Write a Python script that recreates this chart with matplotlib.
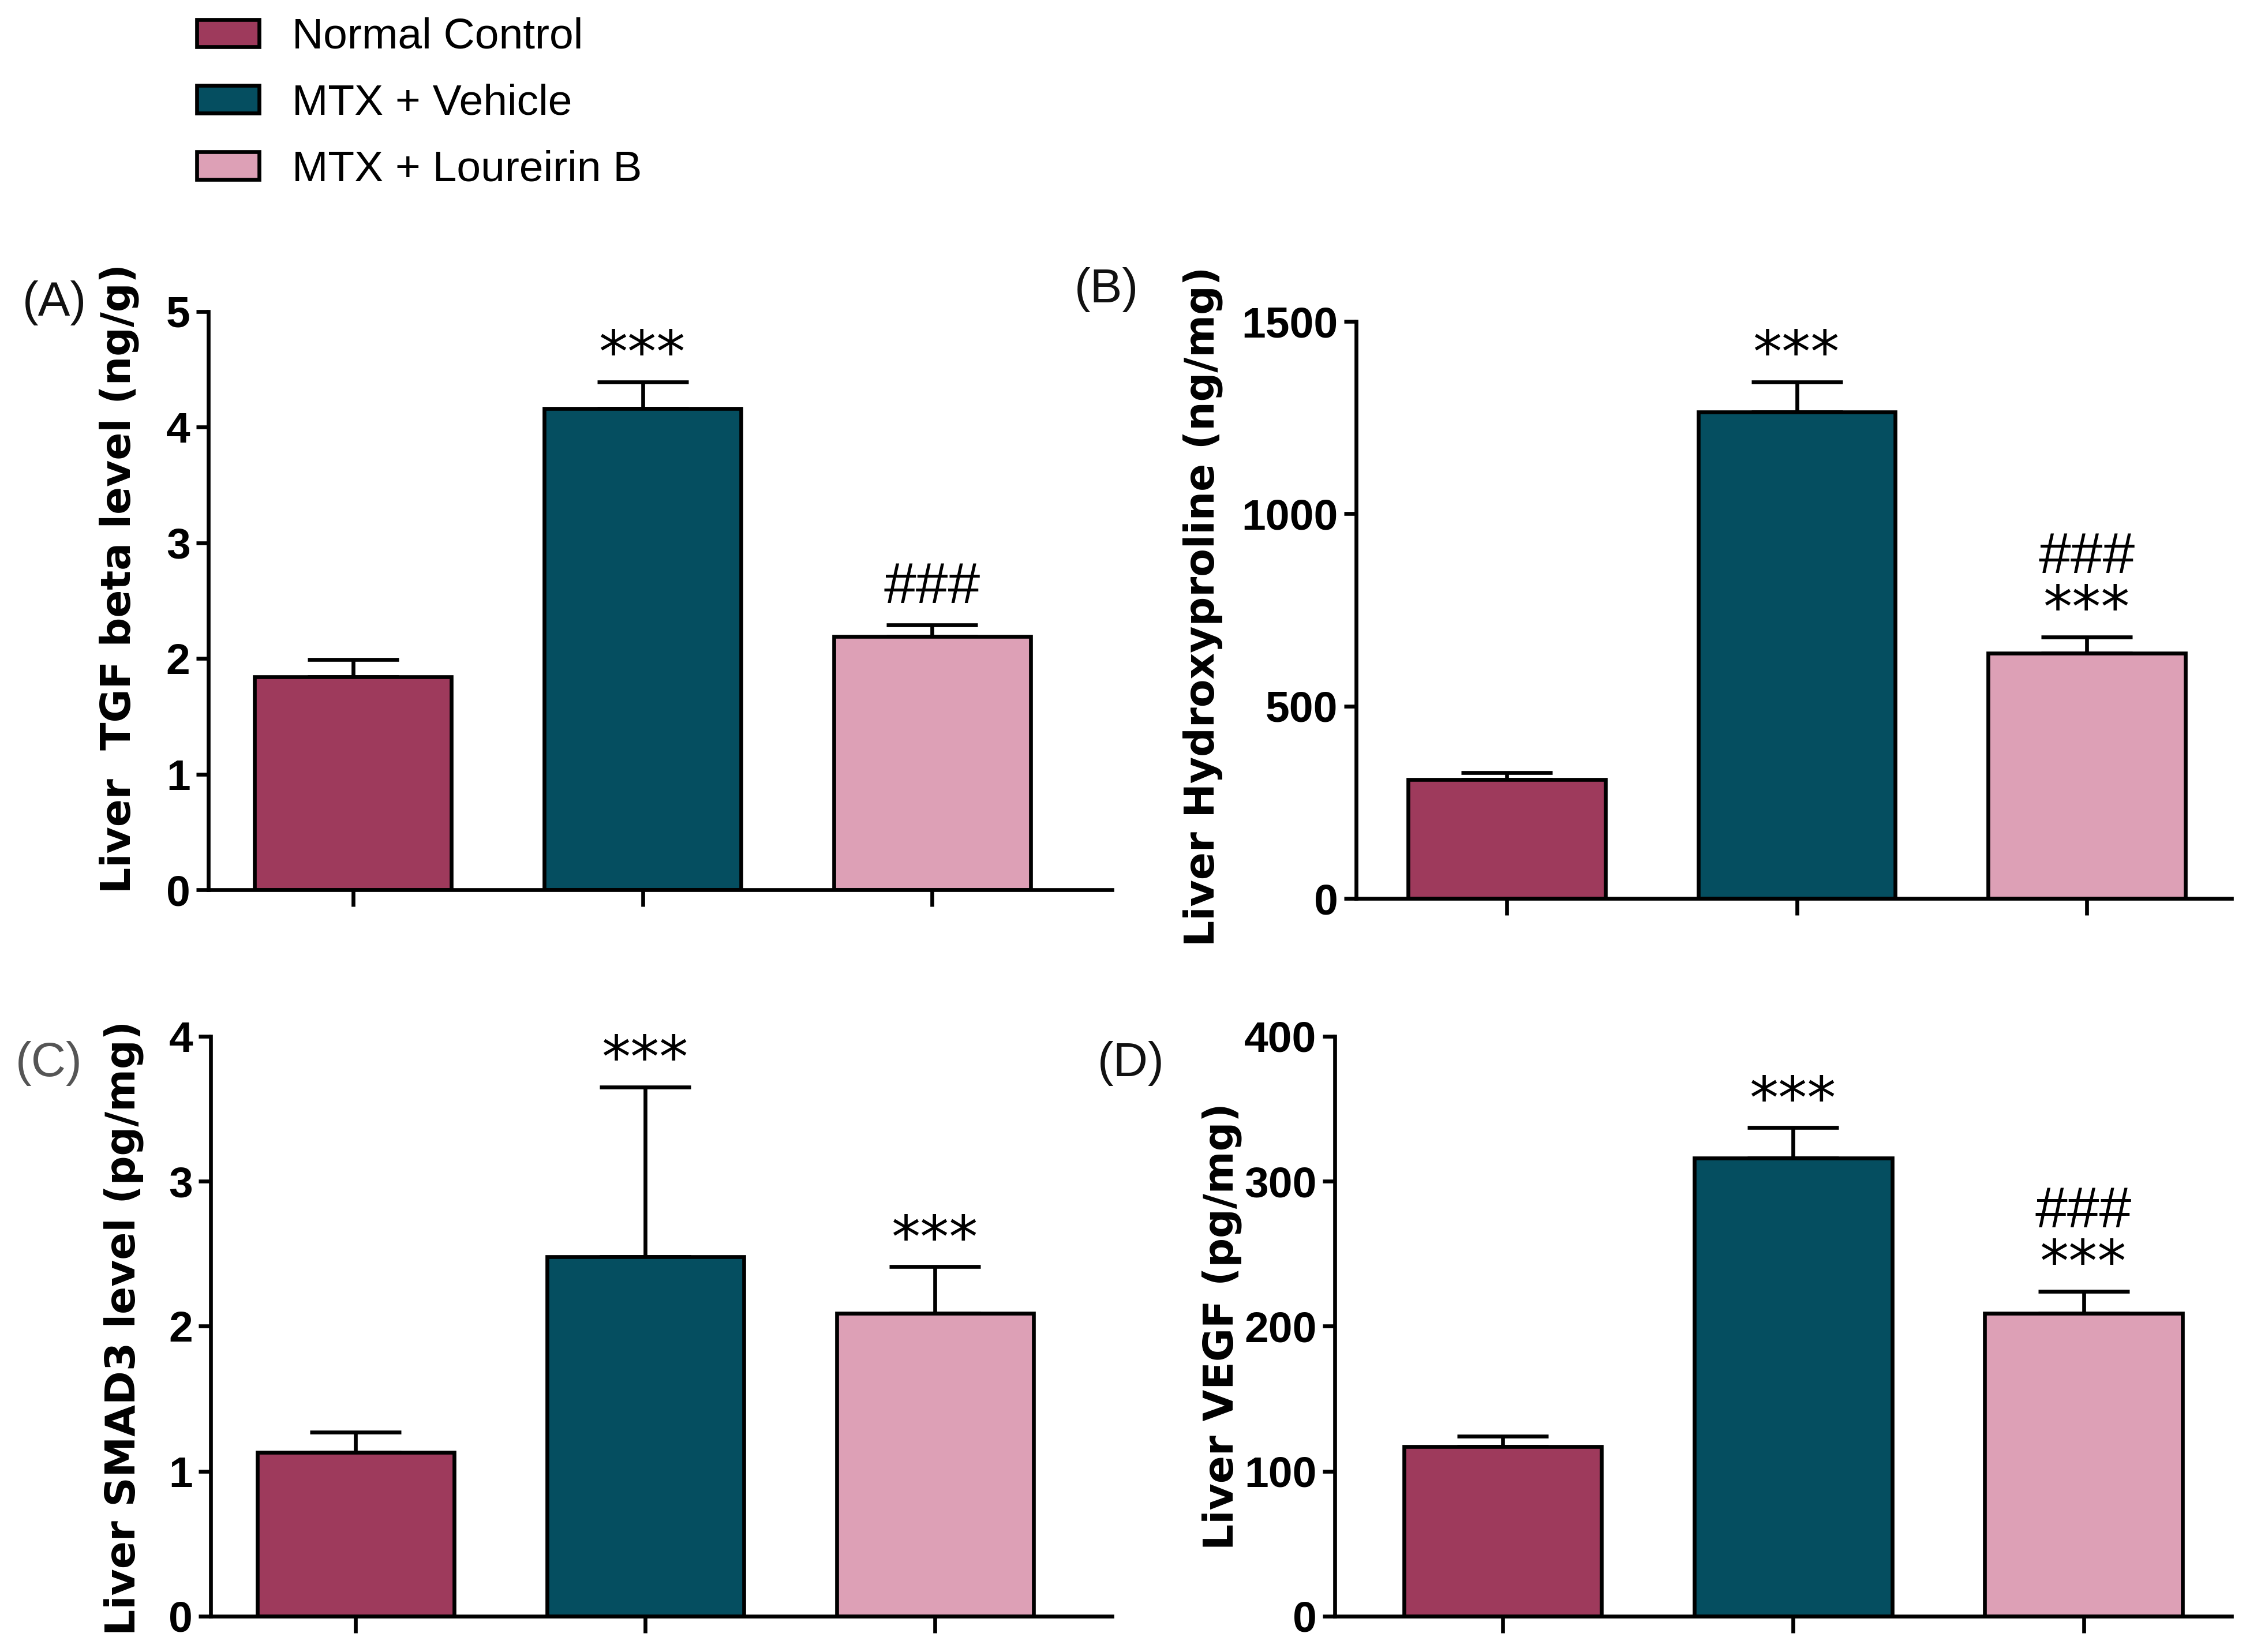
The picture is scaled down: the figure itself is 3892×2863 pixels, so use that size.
import matplotlib
matplotlib.use("Agg")
import matplotlib.pyplot as plt
from matplotlib.patches import Patch

# ---------------- data ----------------
groups = ["Normal Control", "MTX + Vehicle", "MTX + Loureirin B"]
colors = ["#9E3A5C", "#054E60", "#DDA0B6"]

tgf_mean = [1.84, 4.16, 2.19]
tgf_err = [0.15, 0.23, 0.10]
tgf_marks = [[], ["***"], ["###"]]

hyp_mean = [310, 1264, 638]
hyp_err = [18, 79, 42]
hyp_marks = [[], ["***"], ["***", "###"]]

smad_mean = [1.13, 2.48, 2.09]
smad_err = [0.14, 1.17, 0.32]
smad_marks = [[], ["***"], ["***"]]

vegf_mean = [117, 316, 209]
vegf_err = [7, 21, 15]
vegf_marks = [[], ["***"], ["***", "###"]]

ylabels = ["Liver  TGF beta level (ng/g)", "Liver Hydroxyproline (ng/mg)",
           "Liver SMAD3 level (pg/mg)", "Liver VEGF (pg/mg)"]
yticks = [[0, 1, 2, 3, 4, 5], [0, 500, 1000, 1500],
          [0, 1, 2, 3, 4], [0, 100, 200, 300, 400]]
panel_letters = ["(A)", "(B)", "(C)", "(D)"]

# ---------------- figure ----------------
W, H = 3892, 2863
DPI = 300
fig = plt.figure(figsize=(W / DPI, H / DPI), dpi=DPI)

tick_font = dict(family=["Liberation Sans Narrow", "Liberation Sans", "DejaVu Sans"],
                 weight="bold", size=18)

# axes rects [left, bottom, width, height] in figure fraction
rects = [
    [0.0927, 0.4613, 0.4023, 0.3502],
    [0.6038, 0.4561, 0.3898, 0.3493],
    [0.0939, 0.0217, 0.4011, 0.3510],
    [0.5942, 0.0217, 0.3994, 0.3510],
]
xlims = [(-0.5, 2.62), (-0.52, 2.5), (-0.5, 2.61), (-0.58, 2.51)]
ylabel_pos = [(0.053, 0.650), (0.5355, 0.633), (0.055, 0.196), (0.544, 0.197)]
letter_pos = [(0.0243, 0.8167), (0.4927, 0.8245), (0.0217, 0.3562), (0.5035, 0.3562)]
letter_colors = ["#111111", "#111111", "#555555", "#111111"]

datasets = [
    (tgf_mean, tgf_err, tgf_marks),
    (hyp_mean, hyp_err, hyp_marks),
    (smad_mean, smad_err, smad_marks),
    (vegf_mean, vegf_err, vegf_marks),
]

lw = 1.6
for i, (rect, (means, errs, marks)) in enumerate(zip(rects, datasets)):
    ax = fig.add_axes(rect)
    x = list(range(len(means)))
    ax.bar(x, means, width=0.68, color=colors, edgecolor="black",
           linewidth=lw, zorder=2)
    ax.errorbar(x, means, yerr=[[0] * len(errs), errs], fmt="none",
                ecolor="black", elinewidth=lw, capsize=19, capthick=lw, zorder=1)
    ax.set_xlim(*xlims[i])
    ax.set_ylim(yticks[i][0], yticks[i][-1])
    ax.set_yticks(yticks[i])
    ax.set_yticklabels([str(t) for t in yticks[i]], fontdict=tick_font)
    ax.set_xticks(x)
    ax.set_xticklabels([])
    for s in ["top", "right"]:
        ax.spines[s].set_visible(False)
    for s in ["left", "bottom"]:
        ax.spines[s].set_linewidth(lw)
    ax.tick_params(axis="y", length=5, width=lw, pad=2.5)
    ax.tick_params(axis="x", length=7, width=lw)

    # significance marks
    for xi, (m, e, mk) in enumerate(zip(means, errs, marks)):
        for k, s in enumerate(mk):
            center = 17.5 + 17.5 * k
            if s.startswith("*"):
                off = center - 13.5
                fam = ["DejaVu Sans"]
                wt = "normal"
            else:
                off = center - 8.4
                fam = ["Liberation Sans", "DejaVu Sans"]
                wt = "normal"
            ax.annotate(s, xy=(xi, m + e), xytext=(0, off),
                        textcoords="offset points", ha="center", va="baseline",
                        fontsize=24, family=fam, fontweight=wt,
                        annotation_clip=False)

    fig.text(ylabel_pos[i][0], ylabel_pos[i][1], ylabels[i], rotation=90,
             ha="center", va="center", fontsize=17, fontweight="bold",
             family=["DejaVu Sans"])
    fig.text(letter_pos[i][0], letter_pos[i][1], panel_letters[i],
             ha="center", va="center", fontsize=20, color=letter_colors[i],
             family=["Liberation Sans", "DejaVu Sans"])

handles = [Patch(facecolor=c, edgecolor="black", linewidth=lw) for c in colors]
fig.legend(handles, groups, loc="upper left", bbox_to_anchor=(0.0875, 0.9896),
           frameon=False, borderpad=0, borderaxespad=0,
           handlelength=1.45, handleheight=0.6, handletextpad=0.76,
           labelspacing=0.61, prop=dict(family=["Liberation Sans", "DejaVu Sans"], size=18))

fig.savefig("out.png", dpi=DPI)
